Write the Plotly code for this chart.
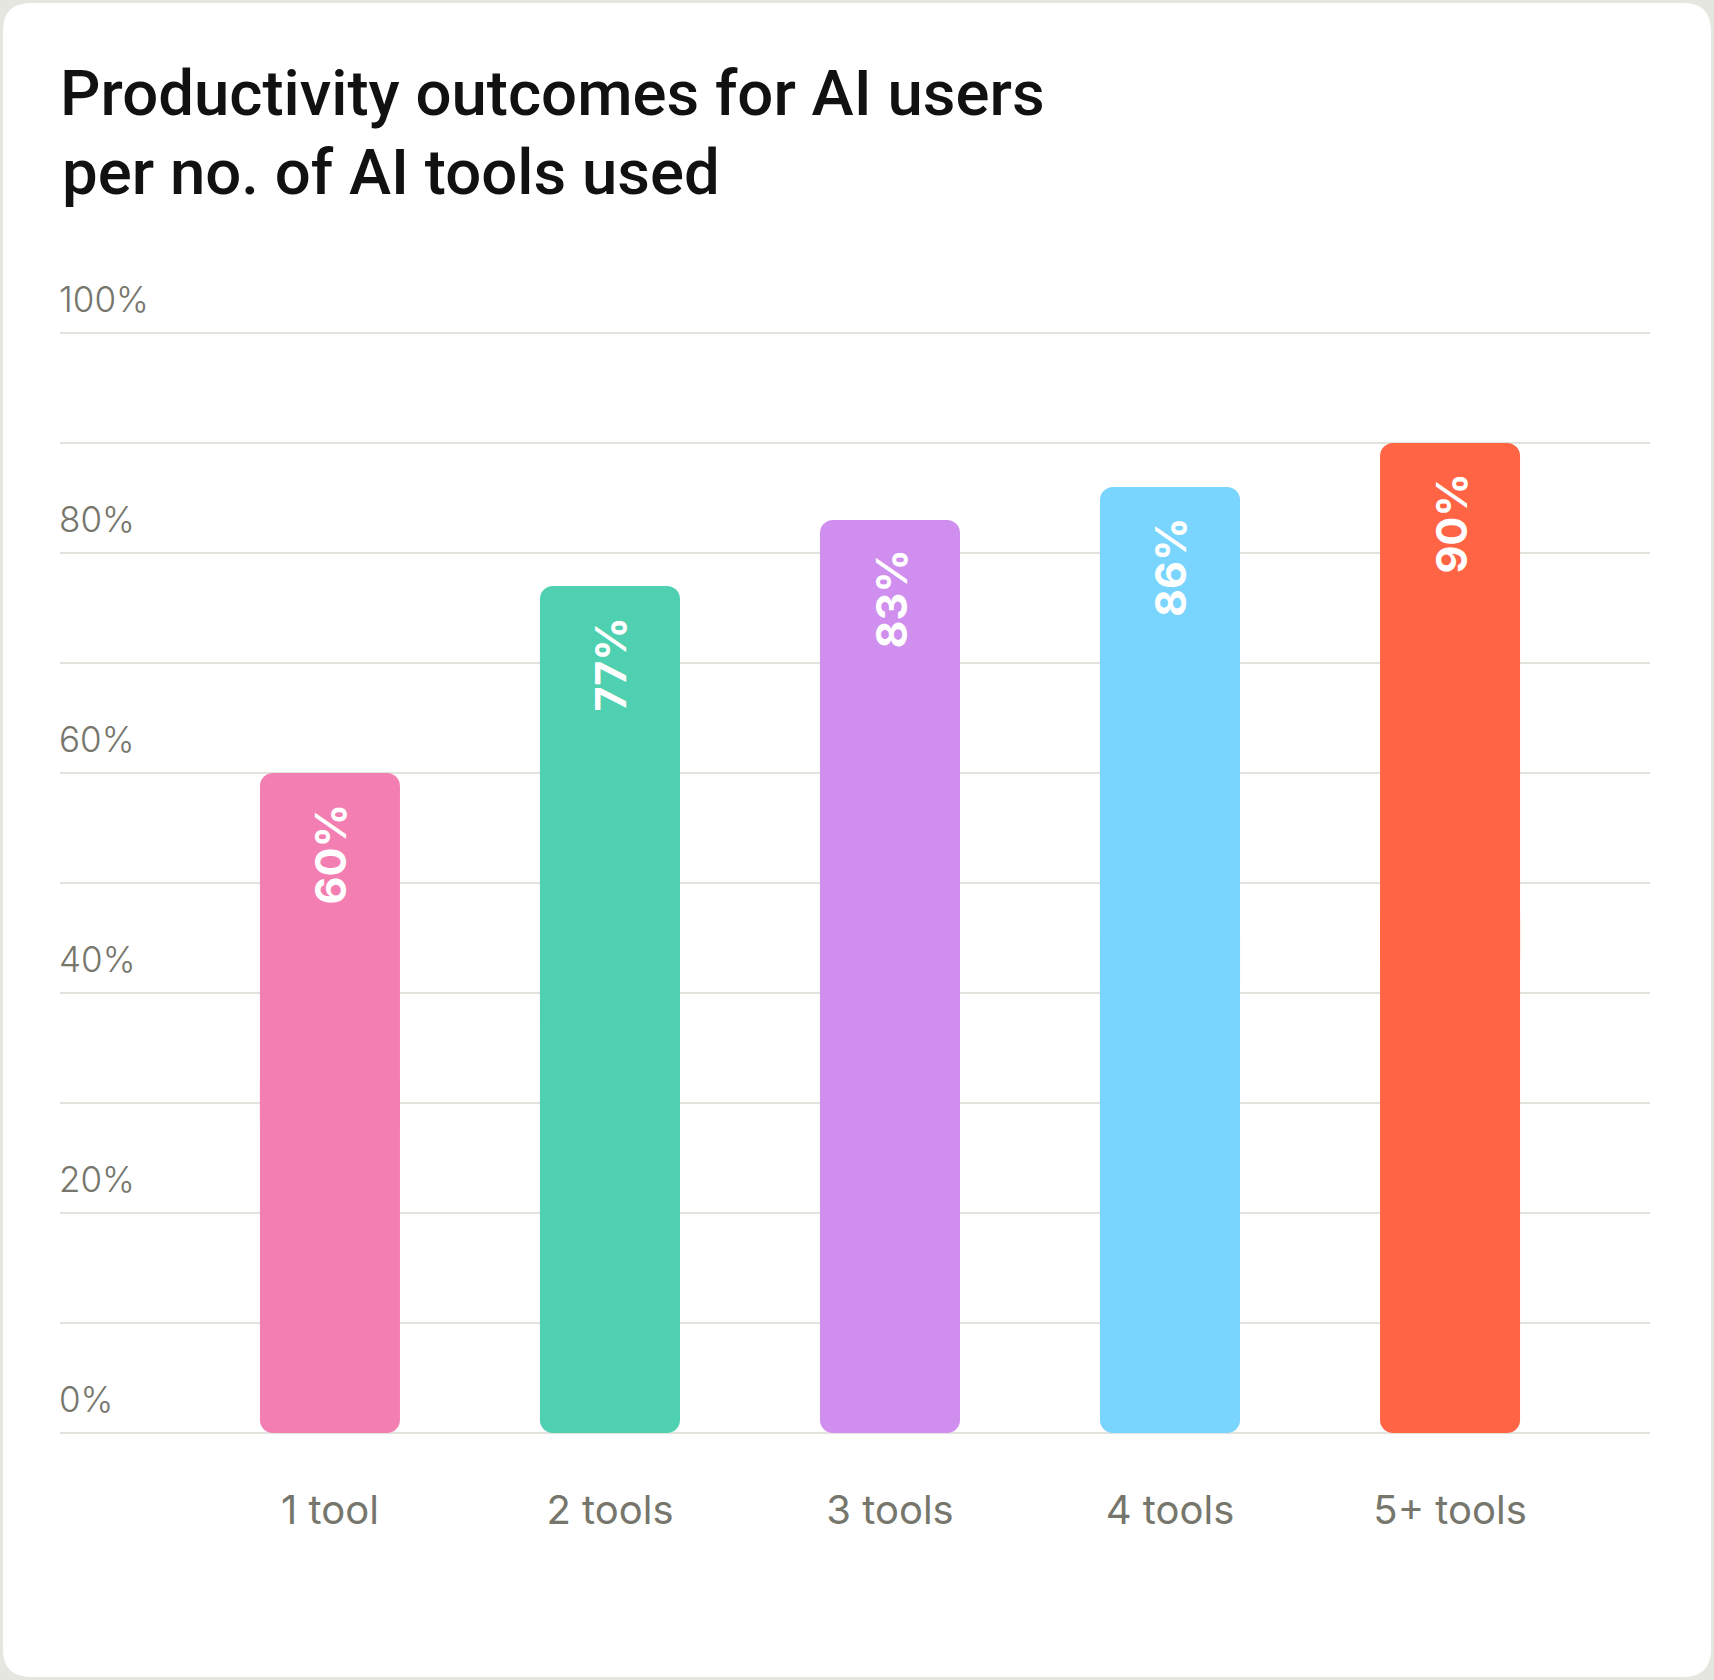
import plotly.graph_objects as go

categories = ["1 tool", "2 tools", "3 tools", "4 tools", "5+ tools"]
values = [60, 77, 83, 86, 90]
bar_colors = ["#f37fb2", "#4fd0b0", "#d08fee", "#79d5fe", "#ff6445"]
y_ticks = [0, 20, 40, 60, 80, 100]
y_tick_text = ["0%", "20%", "40%", "60%", "80%", "100%"]
title_line1 = "Productivity outcomes for AI users"
title_line2 = "per no. of AI tools used"

W, H = 1714, 1680
Y_TOP = 106
PX_PER_UNIT = 11
ML, MR, MB = 60, 64, 247
MT = H - MB - Y_TOP * PX_PER_UNIT

fig = go.Figure()
# each bar is drawn as two overlapping halves so both ends get rounded corners
OV = 3
mid = [v / 2 for v in values]
fig.add_trace(go.Bar(
    x=categories, y=[v - (m - OV) for v, m in zip(values, mid)],
    base=[m - OV for m in mid],
    marker=dict(color=bar_colors, line=dict(width=0)),
    width=0.5, hoverinfo="skip",
))
fig.add_trace(go.Bar(
    x=categories, y=[-(m + OV) for m in mid], base=[m + OV for m in mid],
    marker=dict(color=bar_colors, line=dict(width=0)),
    width=0.5, hoverinfo="skip",
))

for c, v in zip(categories, values):
    fig.add_annotation(
        x=c, y=v, xref="x", yref="y", text=f"<b>{v}%</b>",
        textangle=-90, showarrow=False, yanchor="top", xanchor="center",
        yshift=-28,
        font=dict(family="Inter", size=43, color="white"),
    )

# card background (white rounded rectangle on light grey page)
x0, x1 = 3 - ML, (W - 3) - ML
y0, y1 = -(MB - 3), (H - MB) - 3
r = 28
path = (f"M {x0+r},{y1} L {x1-r},{y1} Q {x1},{y1} {x1},{y1-r} "
        f"L {x1},{y0+r} Q {x1},{y0} {x1-r},{y0} L {x0+r},{y0} "
        f"Q {x0},{y0} {x0},{y0+r} L {x0},{y1-r} Q {x0},{y1} {x0+r},{y1} Z")
fig.add_shape(type="path", path=path, xref="paper", yref="paper",
              xsizemode="pixel", ysizemode="pixel", xanchor=0, yanchor=0,
              fillcolor="white", line=dict(width=0), layer="below")

title_font = dict(family="Roboto", size=63.5, weight=500, color="#111111")

# title second line
fig.add_annotation(
    xref="paper", yref="paper", x=0, y=1, xanchor="left", yanchor="bottom",
    xshift=0, yshift=MT - 212, text=title_line2, showarrow=False,
    font=title_font,
)

fig.update_layout(
    width=W, height=H,
    margin=dict(l=ML, r=MR, t=MT, b=MB, pad=0),
    paper_bgcolor="#e6e6e0",
    plot_bgcolor="rgba(0,0,0,0)",
    showlegend=False,
    barmode="overlay",
    barcornerradius=13,
    font=dict(family="Inter", color="#111111"),
    title=dict(text=title_line1, x=0, xref="paper", xanchor="left",
               y=1 - 115 / H, yref="container", yanchor="bottom",
               font=title_font),
    xaxis=dict(
        type="category", range=[-0.964, 4.714],
        showgrid=False, zeroline=False, showline=False, ticks="",
        tickfont=dict(family="Inter", size=40, color="#76766c"),
        ticklabelstandoff=50,
    ),
    yaxis=dict(
        range=[0, Y_TOP], tickvals=y_ticks, ticktext=y_tick_text,
        showgrid=True, gridcolor="#e3e3dd", gridwidth=2,
        minor=dict(dtick=10, showgrid=True, gridcolor="#e3e3dd", gridwidth=2),
        zeroline=True, zerolinecolor="#e3e3dd", zerolinewidth=2,
        showline=False, ticks="",
        ticklabelposition="inside", ticklabelstandoff=-4, ticklabelshift=-33,
        tickfont=dict(family="Inter", size=35, weight=300, color="#76766c"),
    ),
)

fig.write_html("out.html", config={"displayModeBar": False},
               post_script="document.body.style.margin='0';")
